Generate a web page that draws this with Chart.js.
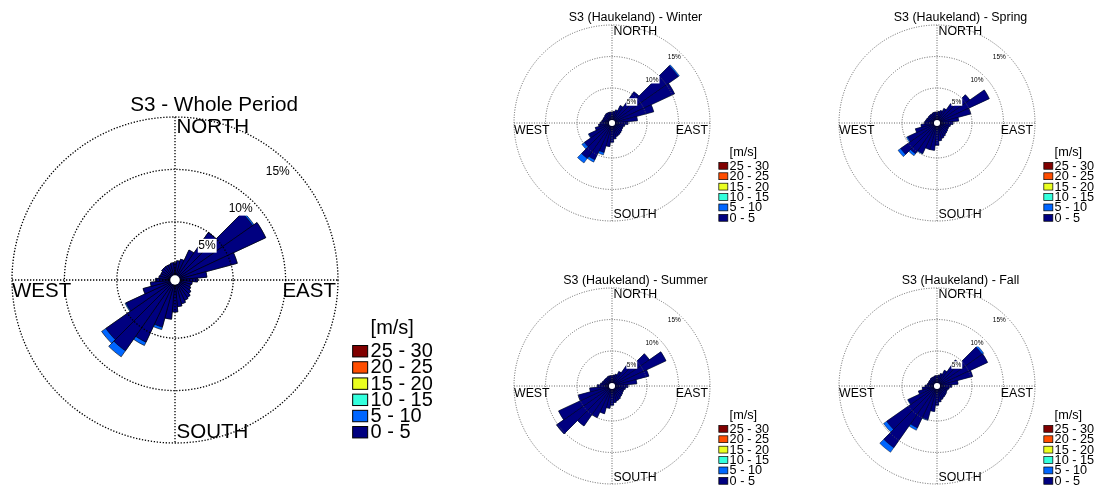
<!DOCTYPE html>
<html><head><meta charset="utf-8">
<script src="https://cdn.jsdelivr.net/npm/chart.js@4.4.1/dist/chart.umd.min.js"></script>
<style>
html,body{margin:0;padding:0;background:#fff;width:1100px;height:490px;overflow:hidden;}
canvas{position:absolute;}
</style></head><body>
<canvas id="cWhole"></canvas>
<canvas id="cWinter"></canvas>
<canvas id="cSpring"></canvas>
<canvas id="cSummer"></canvas>
<canvas id="cFall"></canvas>
<script>
// ---- data ----
const directions = [0,10,20,30,40,50,60,70,80,90,100,110,120,130,140,150,160,170,180,190,200,210,220,230,240,250,260,270,280,290,300,310,320,330,340,350];
const speedClasses = ['0 - 5','5 - 10','10 - 15','15 - 20','20 - 25','25 - 30'];
const classColors = ['#000080','#0066ff','#33ffdd','#eaff20','#ff4d00','#800000'];
const ringTicks = [5,10,15];
const tickLabels = ['5%','10%','15%'];
const compassLabels = ['NORTH','EAST','SOUTH','WEST'];
const unitLabel = '[m/s]';

const whole_0_5 = [1.1,1.3,1.5,2.6,5.0,8.5,9.0,5.6,2.5,1.6, 1.1,1.0,1.1,1.3,1.5,1.6,1.8,2.0,2.5,3.2, 4.1,6.0,7.7,7.5,4.6,2.6,1.8,1.3,1.0,0.9, 0.9,1.0,1.0,1.0,1.0,1.1];
const whole_5_10 = [0,0,0,0,0,0.15,0,0,0,0, 0,0,0,0,0,0,0,0,0,0, 0.25,0.35,0.7,0.5,0.1,0,0,0,0,0, 0,0,0,0,0,0];

const winter_0_5 = [1.2,1.3,1.6,2.5,5.5,12.3,10.4,6.3,3.5,2.0, 1.5,1.3,1.3,1.4,1.5,1.6,1.7,2.0,2.5,3.2, 4.3,5.9,6.3,4.8,3.5,2.2,1.6,1.3,1.1,1.0, 1.0,1.0,1.1,1.2,1.2,1.2];
const winter_5_10 = [0,0,0,0,0,0.2,0,0,0,0, 0,0,0,0,0,0,0,0,0,0, 0.4,0.4,0.9,0.5,0.1,0,0,0,0,0, 0,0,0,0,0,0];

const spring_0_5 = [1.2,1.3,1.5,2.0,3.2,5.8,8.6,5.0,2.9,2.0, 1.6,1.4,1.4,1.5,1.6,1.8,2.0,2.3,3.0,3.8, 3.8,4.8,5.4,6.5,4.6,3.0,2.0,1.5,1.3,1.2, 1.1,1.1,1.1,1.1,1.2,1.2];
const spring_5_10 = [0,0,0,0,0,0,0,0,0,0, 0,0,0,0,0,0,0,0,0,0, 0,0.1,0.4,0.5,0.2,0,0,0,0,0, 0,0,0,0,0,0];

const summer_0_5 = [1.1,1.2,1.4,2.0,3.8,6.7,8.9,5.5,3.4,2.0, 1.6,1.4,1.4,1.5,1.6,1.8,1.9,2.1,2.5,3.0, 4.0,5.0,7.2,10.2,8.8,5.0,3.0,1.8,1.3,1.1, 1.0,1.0,1.0,1.0,1.1,1.1];
const summer_5_10 = [0,0,0,0,0,0,0,0,0,0, 0,0,0,0,0,0,0,0,0,0, 0,0,0,0,0,0,0,0,0,0, 0,0,0,0,0,0];

const fall_0_5 = [1.1,1.2,1.5,2.2,4.5,8.2,8.3,5.3,2.8,1.8, 1.4,1.2,1.2,1.3,1.4,1.5,1.7,2.0,2.5,3.5, 5.0,6.8,11.4,9.2,4.5,2.5,1.8,1.3,1.0,0.9, 0.9,0.9,1.0,1.0,1.0,1.1];
const fall_5_10 = [0,0,0,0,0,0.3,0,0,0,0, 0,0,0,0,0,0,0,0,0,0, 0.1,0.4,0.9,0.6,0.1,0,0,0,0,0, 0,0,0,0,0,0];

const FONT = '"Liberation Sans", Arial, sans-serif';

// ---- decorations drawn from the radial scale ----
const roseDecor = {
  id: 'roseDecor',
  afterDraw(chart, args, o) {
    const s = chart.scales.r, ctx = chart.ctx;
    const cx = s.xCenter, cy = s.yCenter, R = s.drawingArea;
    ctx.save();
    // compass cross
    ctx.strokeStyle = o.gridColor; ctx.lineWidth = o.gridWidth; ctx.setLineDash(o.dash);
    ctx.beginPath();
    ctx.moveTo(cx, cy - R); ctx.lineTo(cx, cy + R);
    ctx.moveTo(cx - R, cy); ctx.lineTo(cx + R, cy);
    ctx.stroke();
    ctx.setLineDash([]);
    // centre hole
    const h = s.getDistanceFromCenterForValue(0) - o.holeInset;
    ctx.fillStyle = '#fff';
    ctx.beginPath(); ctx.arc(cx, cy, h, 0, 2 * Math.PI); ctx.fill();
    // ring labels
    ctx.font = o.tickFont + 'px ' + FONT;
    ctx.textAlign = 'right'; ctx.textBaseline = 'top';
    ringTicks.forEach((v, i) => {
      const r = s.getDistanceFromCenterForValue(v);
      const px = cx + r * Math.SQRT1_2, py = cy - r * Math.SQRT1_2;
      const w = ctx.measureText(tickLabels[i]).width;
      ctx.fillStyle = '#fff';
      ctx.fillRect(px - w - 1, py, w + 1.5, o.tickFont * 1.15);
      ctx.fillStyle = '#000';
      ctx.fillText(tickLabels[i], px - 0.5, py + 0.5);
    });
    // compass labels
    const fs = 0.126 * R;
    ctx.font = fs + 'px ' + FONT;
    ctx.fillStyle = '#000';
    ctx.textAlign = 'left'; ctx.textBaseline = 'top';
    ctx.fillText(compassLabels[0], cx + 1.5, cy - R);
    ctx.textBaseline = 'alphabetic';
    ctx.fillText(compassLabels[2], cx + 1.5, cy + R - 0.028 * R);
    ctx.textBaseline = 'top';
    ctx.fillText(compassLabels[3], cx - R, cy + 1);
    ctx.textAlign = 'right';
    ctx.fillText(compassLabels[1], cx + R - 2, cy + 1);
    // title
    ctx.font = (0.127 * R) + 'px ' + FONT;
    ctx.textAlign = 'center'; ctx.textBaseline = 'middle';
    ctx.fillText(o.title, cx + 0.24 * R, cy - 1.074 * R);
    // legend
    ctx.font = o.legendFont + 'px ' + FONT;
    ctx.textAlign = 'left'; ctx.textBaseline = 'middle';
    ctx.fillText(unitLabel, cx + 1.2 * R, cy + 0.3 * R);
    const bw = 0.092 * R, bh = 0.07 * R;
    for (let k = 0; k < speedClasses.length; k++) {
      const ci = speedClasses.length - 1 - k;
      const y = cy + 0.437 * R + k * o.legendStep;
      ctx.fillStyle = classColors[ci];
      ctx.fillRect(cx + 1.09 * R, y - bh / 2, bw, bh);
      ctx.strokeStyle = '#000'; ctx.lineWidth = o.boxLine;
      ctx.strokeRect(cx + 1.09 * R, y - bh / 2, bw, bh);
      ctx.fillStyle = '#000';
      ctx.fillText(speedClasses[ci], cx + 1.2 * R, y + 0.5);
    }
    ctx.restore();
  }
};

function roseChart(id, title, lo, hi, g) {
  const total = lo.map((v, i) => v + hi[i]);
  const canvas = document.getElementById(id);
  canvas.width = g.W; canvas.height = g.H;
  canvas.style.left = g.L + 'px'; canvas.style.top = g.T + 'px';
  canvas.style.width = g.W + 'px'; canvas.style.height = g.H + 'px';
  const pad = {
    left: g.cx - g.R - g.L, top: g.cy - g.R - g.T,
    right: g.L + g.W - (g.cx + g.R), bottom: g.T + g.H - (g.cy + g.R)
  };
  return new Chart(canvas, {
    type: 'polarArea',
    data: {
      labels: directions.map(d => d + '°'),
      datasets: [
        { label: speedClasses[0], data: lo, backgroundColor: classColors[0], borderColor: '#000', borderWidth: g.bw },
        { label: speedClasses[1], data: total, backgroundColor: classColors[1], borderColor: '#000', borderWidth: g.bw }
      ]
    },
    options: {
      responsive: false, animation: false, events: [],
      devicePixelRatio: 1,
      layout: { padding: pad },
      plugins: {
        legend: { display: false }, tooltip: { enabled: false },
        roseDecor: { title: title, gridColor: g.gridColor, gridWidth: g.gridWidth, dash: g.dash,
                     tickFont: g.tickFont, holeInset: g.holeInset, boxLine: g.boxLine,
                     legendFont: g.legendFont, legendStep: g.legendStep }
      },
      scales: {
        r: {
          min: -0.55, max: 15, startAngle: -5,
          afterBuildTicks: s => { s.ticks = ringTicks.map(v => ({ value: v })); },
          ticks: { display: false },
          grid: { circular: true, color: g.gridColor, lineWidth: g.gridWidth, z: 1 },
          border: { dash: g.dash },
          angleLines: { display: false },
          pointLabels: { display: false }
        }
      }
    },
    plugins: [roseDecor]
  });
}

const big = { gridColor: '#000', gridWidth: 1.3, dash: [1.3, 1.7], tickFont: 12, holeInset: 1, boxLine: 1, bw: 0.6,
              legendFont: 20, legendStep: 16.2 };
const small = { gridColor: '#555', gridWidth: 0.9, dash: [1, 1.5], tickFont: 6.5, holeInset: 0.4, boxLine: 0.7, bw: 0.4,
                legendFont: 12.7, legendStep: 10.4 };

roseChart('cWhole', 'S3 - Whole Period', whole_0_5, whole_5_10, Object.assign({ L: 0, T: 0, W: 480, H: 490, cx: 175, cy: 280, R: 163 }, big));
roseChart('cWinter', 'S3 (Haukeland) - Winter', winter_0_5, winter_5_10, Object.assign({ L: 490, T: 0, W: 325, H: 250, cx: 612, cy: 123, R: 98 }, small));
roseChart('cSpring', 'S3 (Haukeland) - Spring', spring_0_5, spring_5_10, Object.assign({ L: 815, T: 0, W: 285, H: 250, cx: 937, cy: 123, R: 98 }, small));
roseChart('cSummer', 'S3 (Haukeland) - Summer', summer_0_5, summer_5_10, Object.assign({ L: 490, T: 250, W: 325, H: 240, cx: 612, cy: 386, R: 98 }, small));
roseChart('cFall', 'S3 (Haukeland) - Fall', fall_0_5, fall_5_10, Object.assign({ L: 815, T: 250, W: 285, H: 240, cx: 937, cy: 386, R: 98 }, small));
</script>
</body></html>
